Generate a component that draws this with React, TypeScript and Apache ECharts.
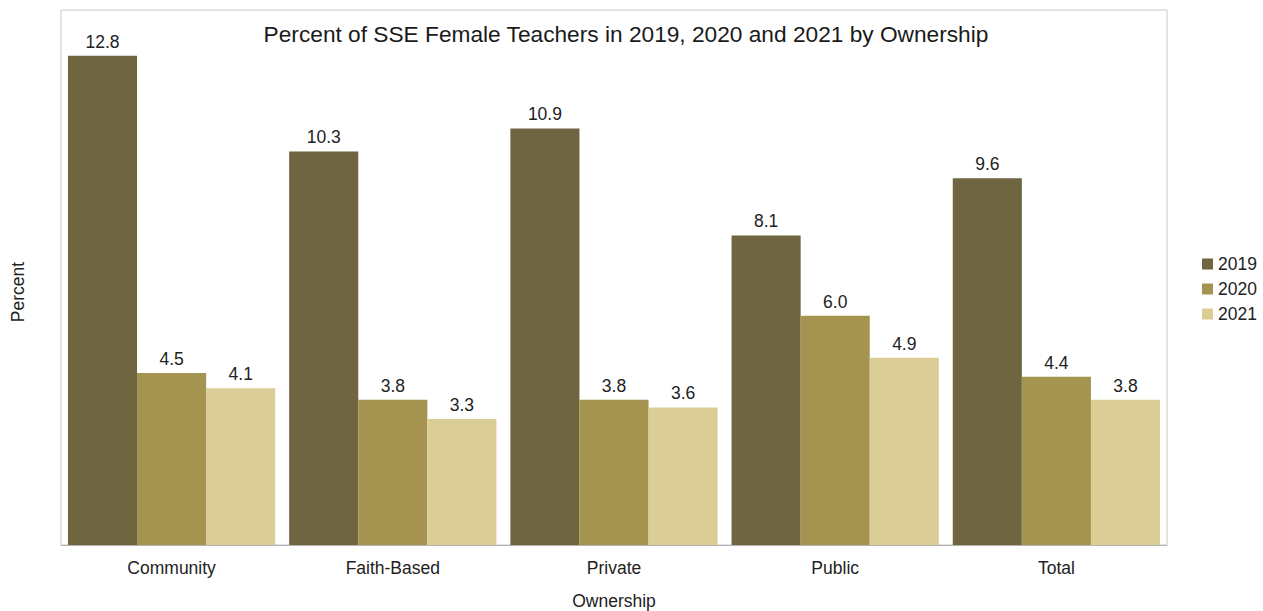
import React, { useEffect, useRef } from "react";
import * as echarts from "echarts";

const categories = ["Community", "Faith-Based", "Private", "Public", "Total"];
const seriesNames = ["2019", "2020", "2021"];
const values2019 = [12.8, 10.3, 10.9, 8.1, 9.6];
const values2020 = [4.5, 3.8, 3.8, 6.0, 4.4];
const values2021 = [4.1, 3.3, 3.6, 4.9, 3.8];
const colors = ["#6f6540", "#a59350", "#dacd96"];

export default function App() {
  const ref = useRef<HTMLDivElement>(null);
  useEffect(() => {
    if (!ref.current) return;
    const chart = echarts.init(ref.current, null, { renderer: "svg" });
    const data = [values2019, values2020, values2021];
    chart.setOption({
      animation: false,
      backgroundColor: "#ffffff",
      textStyle: { fontFamily: "Liberation Sans, Arial, sans-serif" },
      title: {
        text: "Percent of SSE Female Teachers in 2019, 2020 and 2021 by Ownership",
        left: 621,
        textAlign: "center",
        top: 17,
        textStyle: { fontSize: 22.7, fontWeight: "normal", color: "#1a1a1a" },
      },
      legend: {
        orient: "vertical",
        left: 1197,
        top: 250,
        itemWidth: 11,
        itemHeight: 11,
        itemGap: 7,
        icon: "rect",
        textStyle: { fontSize: 17.5, color: "#222" },
        data: seriesNames,
      },
      grid: {
        left: 61,
        right: 96,
        top: 10,
        bottom: 66,
        show: true,
        borderColor: "#c8c8c8",
        borderWidth: 1,
        outerBoundsMode: "none",
        containLabel: false,
      },
      xAxis: {
        type: "category",
        data: categories,
        name: "Ownership",
        nameLocation: "middle",
        nameGap: 47,
        nameTextStyle: { fontSize: 17.5, color: "#222" },
        axisLine: { lineStyle: { color: "#b3b3b3" } },
        axisTick: { length: 6, lineStyle: { color: "#b3b3b3" } },
        axisLabel: { fontSize: 17.5, color: "#222", margin: 14 },
      },
      yAxis: {
        type: "value",
        min: 0,
        max: 14,
        show: true,
        axisLine: { show: false },
        axisTick: { show: false },
        axisLabel: { show: false },
        splitLine: { show: false },
      },
      graphic: [
        {
          type: "text",
          x: 18,
          y: 292,
          rotation: Math.PI / 2,
          style: {
            text: "Percent",
            fontSize: 17.5,
            fill: "#222",
            fontFamily: "Liberation Sans, Arial, sans-serif",
            textAlign: "center",
            textVerticalAlign: "middle",
          },
        },
      ],
      series: seriesNames.map((name, i) => ({
        name,
        type: "bar",
        data: data[i],
        barGap: "0%",
        barCategoryGap: "6.3%",
        itemStyle: { color: colors[i] },
        label: {
          show: true,
          position: "top",
          distance: 5,
          fontSize: 17.5,
          color: "#222",
          formatter: (p: any) => Number(p.value).toFixed(1),
        },
      })),
    });
    return () => chart.dispose();
  }, []);
  return (
    <div
      ref={ref}
      style={{ position: "absolute", left: 0, top: 0, width: 1263, height: 611 }}
    />
  );
}
